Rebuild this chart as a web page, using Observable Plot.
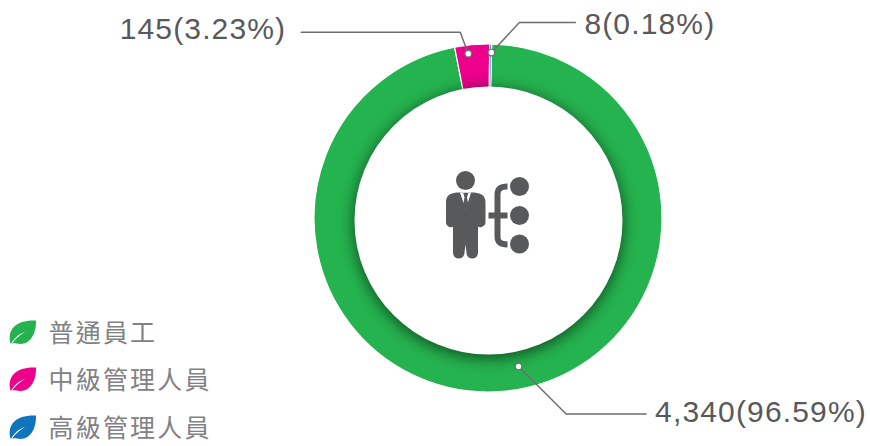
<!DOCTYPE html>
<html><head><meta charset="utf-8">
<style>html,body{margin:0;padding:0;background:#fff}</style>
<script src="https://cdn.jsdelivr.net/npm/d3@7"></script>
<script src="https://cdn.jsdelivr.net/npm/@observablehq/plot@0.6"></script>
</head><body><div id="chart"></div>
<script>
// data
const categories = ["普通員工", "中級管理人員", "高級管理人員"];
const values = [4340, 145, 8];
const valueLabels = ["4,340(96.59%)", "145(3.23%)", "8(0.18%)"];
const colors = ["#25b34f", "#ec008c", "#0f75bc"];

// layout
const W = 870, H = 446;
const C = {x: 488, y: 218, r: 174};
const hole = {x: 488, y: 220, r: 134};
const startDeg = 1.2;
const anchors = [{a: 168.5, r: 151, ex: 47.5, ey: 47.5, len: 80}, {a: -7, r: 166, ex: -8, ey: -21.5, len: -159}, {a: 1, r: 166, ex: 28, ey: -30, len: 56}];
const labelPos = [{dx: 9, ey: -2}, {dx: -15, ey: -3}, {dx: 9, ey: 2}];
const legendY = [333, 380, 428];
const LEG = {leaf: 23, text: 48};

const pie = d3.pie().sort(null).startAngle(startDeg * Math.PI / 180).endAngle((startDeg + 360) * Math.PI / 180);
const slices = pie(values).map((s, i) => ({...s, color: colors[i]}));

const polar = (a, r) => [C.x + r * Math.sin(a * Math.PI / 180), C.y - r * Math.cos(a * Math.PI / 180)];
const pts = anchors.map(d => polar(d.a, d.r));
const elbows = pts.map((p, i) => [p[0] + anchors[i].ex, p[1] + anchors[i].ey]);
const ends = elbows.map((p, i) => [p[0] + anchors[i].len, p[1]]);
const leaders = pts.flatMap((p, i) => [p, elbows[i], ends[i]].map(q => ({i, x: q[0], y: q[1]})));
const labels = valueLabels.map((t, i) => ({t, i, x: ends[i][0] + labelPos[i].dx, y: ends[i][1] + labelPos[i].ey}));

const spacing = v => (i, s, c, d, ctx, next) => { const g = next(i, s, c, d, ctx); g.style.letterSpacing = v; return g; };

// glyphs as custom symbols
const sym = f => ({draw: f});
const leaf = sym(p => {
  p.moveTo(-13, 11); p.bezierCurveTo(-17, -4, -6, -13, 12.5, -12);
  p.bezierCurveTo(13, 3, 5, 14, -7, 11);
  p.bezierCurveTo(-9, 10.5, -11, 10.5, -13, 11); p.closePath();
});
const vein = sym(p => { p.moveTo(-12.5, 11); p.bezierCurveTo(-9, 5, -4, 1, 2, -1); p.bezierCurveTo(-3, 2, -8, 6, -11, 10.5); p.closePath(); });
const body = sym(p => {
  p.moveTo(-9, -22); p.lineTo(9, -22);
  p.bezierCurveTo(16, -21, 20, -19, 20, -12);
  p.lineTo(20, 8); p.bezierCurveTo(20, 12, 14, 14, 12.5, 12);
  p.lineTo(12.5, 38); p.bezierCurveTo(12.5, 46, 1, 46, 1, 38);
  p.lineTo(0, 30); p.lineTo(-1, 38);
  p.bezierCurveTo(-1, 46, -12.5, 46, -12.5, 38);
  p.lineTo(-12.5, 12); p.bezierCurveTo(-14, 14, -19.5, 12, -19.5, 8);
  p.lineTo(-19.5, -12); p.bezierCurveTo(-19.5, -19, -16, -21, -9, -22); p.closePath();
});
const shirt = sym(p => { p.moveTo(-5.5, -22); p.lineTo(5.5, -22); p.lineTo(0.3, -5); p.closePath(); });
const tie = sym(p => { p.moveTo(-2.3, -21.5); p.lineTo(2.8, -21.5); p.lineTo(1.5, -17); p.lineTo(3, -9); p.lineTo(0.3, -5); p.lineTo(-2.5, -9); p.lineTo(-1, -17); p.closePath(); });
const brace = sym(p => {
  p.moveTo(10, -29); p.bezierCurveTo(3, -29, 0, -27, 0, -21);
  p.lineTo(0, 21); p.bezierCurveTo(0, 27, 3, 29, 10, 29);
  p.moveTo(-9, 0); p.lineTo(10, 0);
});

const iconX = 465, iconY = 214, braceX = 497, braceY = 215;
const nodeX = 519, nodeYs = [186, 215, 243.5], headY = 180;
const labelFont = {text: "t", x: "x", y: "y", fontFamily: "Liberation Sans, Arial, sans-serif", fontSize: 30, fill: "#58595b", lineAnchor: "middle", render: spacing("1.15px")};

const plot = Plot.plot({
  width: W, height: H, margin: 0,
  x: {domain: [0, W], range: [0, W], axis: null},
  y: {domain: [0, H], range: [0, H], axis: null},
  marks: [
    // slices: angles from d3.pie, placed through the plot's scales
    Plot.dot(slices, {
      x: () => C.x, y: () => C.y, r: 1,
      render(index, scales) {
        const g = d3.create("svg:g");
        const arc = d3.arc().innerRadius(0).outerRadius(scales.x(C.x + C.r) - scales.x(C.x));
        for (const i of index) {
          g.append("path").attr("transform", `translate(${scales.x(C.x)},${scales.y(C.y)})`)
            .attr("d", arc(slices[i])).attr("fill", slices[i].color)
            .attr("stroke", "#fff").attr("stroke-width", 1.2);
        }
        return g.node();
      }
    }),
    Plot.dot([hole], {x: "x", y: "y", r: hole.r, fill: "#fff", stroke: "none", imageFilter: "drop-shadow(0px 3px 8px rgba(0,0,0,.6))"}),
    Plot.line(leaders, {x: "x", y: "y", z: "i", stroke: "#6d6e71", strokeWidth: 1.5, curve: "linear"}),
    Plot.dot(pts, {x: d => d[0], y: d => d[1], r: 3.3, fill: "#fff", stroke: "#6d6e71", strokeWidth: 1.2}),
    Plot.text(labels.filter(d => d.i !== 1), {...labelFont, textAnchor: "start"}),
    Plot.text(labels.filter(d => d.i === 1), {...labelFont, textAnchor: "end"}),
    // icon
    Plot.dot([0], {x: () => iconX, y: () => headY, r: 9.5, fill: "#58595b"}),
    Plot.dot([0], {x: () => iconX, y: () => iconY, symbol: () => body, fill: "#58595b", stroke: "none"}),
    Plot.dot([0], {x: () => iconX, y: () => iconY, symbol: () => shirt, fill: "#fff", stroke: "none"}),
    Plot.dot([0], {x: () => iconX, y: () => iconY, symbol: () => tie, fill: "#58595b", stroke: "none"}),
    Plot.dot([0], {x: () => braceX, y: () => braceY, symbol: () => brace, fill: "none", stroke: "#58595b", strokeWidth: 6}),
    Plot.dot(nodeYs, {x: () => nodeX, y: d => d, r: 9.5, fill: "#58595b"}),
    // legend
    Plot.dot(categories, {x: () => LEG.leaf, y: (d, i) => legendY[i] - 1, symbol: () => leaf, fill: (d, i) => colors[i], stroke: "none"}),
    Plot.dot(categories, {x: () => LEG.leaf, y: (d, i) => legendY[i] - 1, symbol: () => vein, fill: "#fff", stroke: "none"}),
    Plot.text(categories, {x: () => LEG.text, y: (d, i) => legendY[i], text: d => d, textAnchor: "start", lineAnchor: "middle", fontFamily: "Noto Sans CJK TC", fontSize: 25, fill: "#808285", render: spacing("2.2px")})
  ]
});
document.getElementById("chart").appendChild(plot);
</script></body></html>
